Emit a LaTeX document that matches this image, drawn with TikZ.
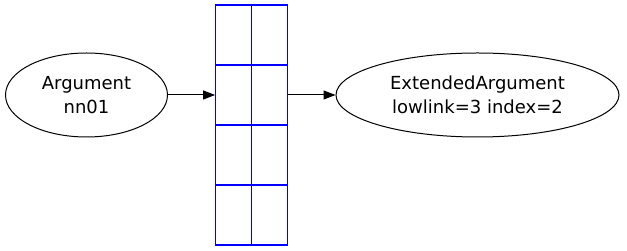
\documentclass[tikz,border=0pt]{standalone}
\usepackage{fontspec}
\setmainfont{DejaVu Sans}
\usetikzlibrary{arrows.meta, shapes.geometric}

\begin{document}
\begin{tikzpicture}[x=1pt, y=1pt,
    obj/.style={draw, ellipse, inner sep=0pt, align=center, line width=1pt,
      font=\fontsize{18}{24}\selectfont},
    cell/.style={draw=blue, rectangle, minimum width=36pt, minimum height=60pt,
      inner sep=0pt, line width=1.2pt},
    link/.style={-{Triangle[length=12pt, width=9pt]}, line width=1pt}]
  \useasboundingbox (0,0) rectangle (627,251);

  % Objects on both sides
  \node[obj, minimum width=162pt, minimum height=84pt] (arg) at (86.5,156)
    {Argument\\nn01};
  \node[obj, minimum width=283pt, minimum height=84pt] (ext) at (477.5,156)
    {ExtendedArgument\\lowlink=3 index=2};

  % Stack of cells, 4 rows and 2 columns
  \foreach \r/\y in {1/216, 2/156, 3/96, 4/36} {
    \foreach \c/\x in {1/233.7, 2/269.7} {
      \node[cell] (c-\r-\c) at (\x,\y) {};
    }
  }

  % Links
  \draw[link] (arg.east) -- (c-2-1.west);
  \draw[link] (c-2-2.east) -- (ext.west);
\end{tikzpicture}
\end{document}
